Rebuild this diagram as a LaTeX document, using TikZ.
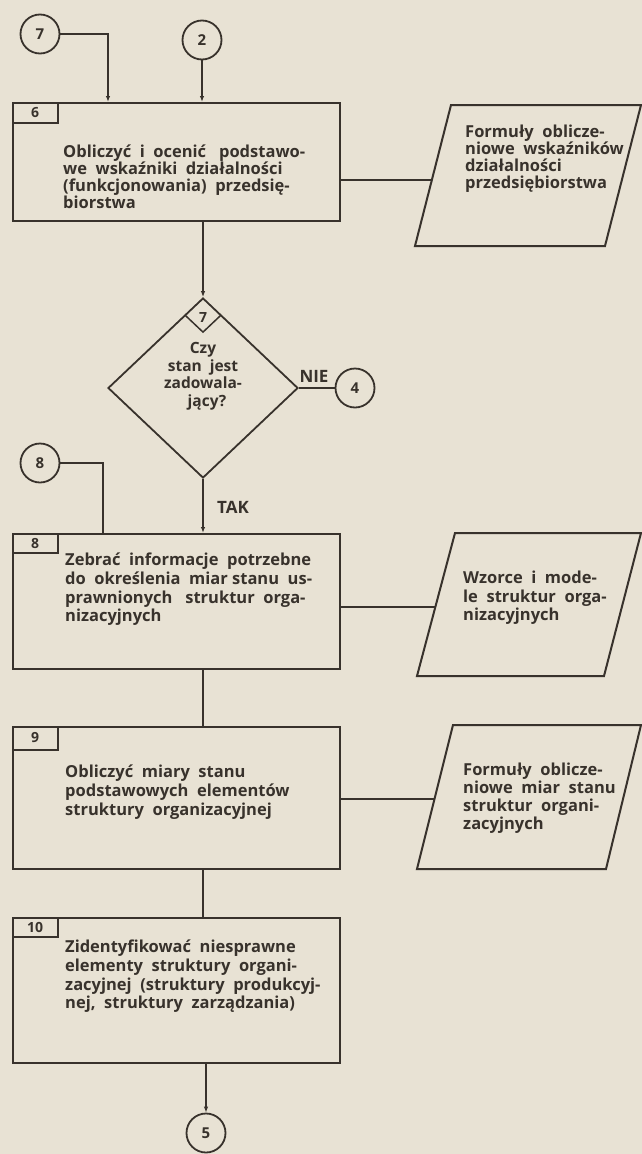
\documentclass[tikz,border=0pt]{standalone}
\usepackage{fontspec}
\setmainfont{Open Sans}
\usetikzlibrary{arrows.meta,shapes.geometric}
\definecolor{paper}{RGB}{232,226,212}
\definecolor{ink}{RGB}{56,50,44}
\begin{document}
\begin{tikzpicture}[x=1pt,y=-1pt,
  line join=miter,
  wire/.style={draw=ink,line width=1.4pt},
  arr/.style={wire,-{Latex[length=6pt,width=4.5pt]}},
  frame/.style={draw=ink,line width=2pt},
  stepbox/.style={frame,rectangle,inner sep=0pt,anchor=north west,minimum width=327pt},
  conn/.style={circle,draw=ink,line width=1.8pt,minimum size=39pt,inner sep=0pt,
    text=ink,font=\bfseries\fontsize{15}{15}\selectfont},
  num/.style={text=ink,inner sep=0pt,font=\bfseries\fontsize{14}{14}\selectfont},
  txt/.style={text=ink,inner sep=0pt,anchor=north west,align=left,
    font=\bfseries\fontsize{16.5}{#1}\selectfont},
  txt/.default=18.5,
  lbl/.style={text=ink,inner sep=0pt,font=\bfseries\fontsize{17}{17}\selectfont}]

% paper
\fill[paper] (0,0) rectangle (642,1154);
\useasboundingbox (0,0) rectangle (642,1154);

% ---------- step 6 ----------
\node[conn] (c7) at (40,34) {7};
\node[conn] (c2) at (202,40) {2};
\node[stepbox,minimum height=118pt] (b6) at (12,102) {};
\draw[frame] (b6.north west) ++(46,0) coordinate (l6a) -- ++(0,21) -- ++(-46,0);
\node[num] (n6) at (35,112.5) {6};
\node[txt=17] (t6) at (63,145) {Obliczyć\ \ i\ \ ocenić\ \ \ podstawo-\\we\ \ wskaźniki\ \ działalności\\(funkcjonowania)\ \ przedsię-\\biorstwa};
\coordinate (k7) at (108,102);
\draw[arr] (c7.east) -- (c7.east -| k7) -- (k7);
\draw[arr] (c2.south) -- (c2.south |- b6.north);

% data sheet for step 6
\coordinate (p1a) at (451,105);
\coordinate (p1b) at (641,105);
\coordinate (p1c) at (605,246);
\coordinate (p1d) at (415,246);
\draw[frame] (p1a) -- (p1b) -- (p1c) -- (p1d) -- cycle;
\node[txt=17] (t6d) at (465,125) {Formuły\ \ oblicze-\\niowe\ \ wskaźników\\działalności\\przedsiębiorstwa};
\coordinate (p1in) at (432,180);
\draw[wire] (p1in -| b6.east) -- (p1in);

% ---------- decision 7 ----------
\node[diamond,draw=ink,line width=1.8pt,minimum width=190pt,minimum height=180pt,inner sep=0pt] (d7) at (203,388) {};
\draw[arr] (b6.south -| d7.north) -- (d7.north);
\draw[draw=ink,line width=1.5pt] (d7.north) ++(-18,18) -- ++(18,17) -- ++(18,-17);
\node[num] (n7) at (203,318) {7};
\node[lbl,align=center,anchor=north,font=\bfseries\fontsize{15.5}{17.7}\selectfont] (td7) at (203,342) {Czy\\stan\ \ jest\\zadowala-\\\ \ jący?};
\node[conn] (c4) at (355,388) {4};
\draw[wire] (d7.east) -- (c4.west);
\node[lbl] (nie) at (314,376) {NIE};

% ---------- step 8 ----------
\node[conn] (c8) at (40,463) {8};
\node[stepbox,minimum height=135pt] (b8) at (12,533) {};
\draw[frame] (b8.north west) ++(46,0) -- ++(0,20) -- ++(-46,0);
\node[num] (n8) at (35,543) {8};
\coordinate (k8) at (103,533);
\draw[wire] (c8.east) -- (c8.east -| k8) -- (k8);
\draw[arr] (d7.south) -- (d7.south |- b8.north);
\node[lbl] (tak) at (233,507) {TAK};
\node[txt=18.7] (t8) at (65,553) {Zebrać\ \ informacje\ \ potrzebne\\do\ \ określenia\ \ miar\ stanu\ \ us-\\prawnionych\ \ \ struktur\ \ orga-\\nizacyjnych};

\coordinate (p2a) at (455,533);
\coordinate (p2b) at (641,533);
\coordinate (p2c) at (604,676);
\coordinate (p2d) at (417,676);
\draw[frame] (p2a) -- (p2b) -- (p2c) -- (p2d) -- cycle;
\node[txt=18.5] (t8d) at (463,571) {Wzorce\ \ i\ \ mode-\\le\ \ struktur\ \ orga-\\nizacyjnych};
\coordinate (p2in) at (435,607);
\draw[wire] (p2in -| b8.east) -- (p2in);

% ---------- step 9 ----------
\node[stepbox,minimum height=142pt] (b9) at (12,726) {};
\draw[frame] (b9.north west) ++(46,0) -- ++(0,24) -- ++(-46,0);
\node[num] (n9) at (35,738) {9};
\draw[wire] (b8.south -| d7.south) -- (b9.north -| d7.south);
\node[txt=19] (t9) at (65,765) {Obliczyć\ \ miary\ \ stanu\\podstawowych\ \ elementów\\struktury\ \ organizacyjnej};

\coordinate (p3a) at (453,725);
\coordinate (p3b) at (641,725);
\coordinate (p3c) at (606,869);
\coordinate (p3d) at (417,869);
\draw[frame] (p3a) -- (p3b) -- (p3c) -- (p3d) -- cycle;
\node[txt=18] (t9d) at (463,763) {Formuły\ \ oblicze-\\niowe\ \ miar\ \ stanu\\struktur\ \ organi-\\zacyjnych};
\coordinate (p3in) at (434,799);
\draw[wire] (p3in -| b9.east) -- (p3in);

% ---------- step 10 ----------
\node[stepbox,minimum height=145pt] (b10) at (12,917) {};
\draw[frame] (b10.north west) ++(46,0) -- ++(0,20) -- ++(-46,0);
\node[num] (n10) at (35,927) {10};
\draw[wire] (b9.south -| d7.south) -- (b10.north -| d7.south);
\node[txt=18.7] (t10) at (65,940) {Zidentyfikować\ \ niesprawne\\elementy\ \ struktury\ \ organi-\\zacyjnej\ \ (struktury\ \ produkcyj-\\nej,\ \ struktury\ \ zarządzania)};

\node[conn] (c5) at (206,1133) {5};
\draw[arr] (b10.south -| c5.north) -- (c5.north);
\end{tikzpicture}
\end{document}
